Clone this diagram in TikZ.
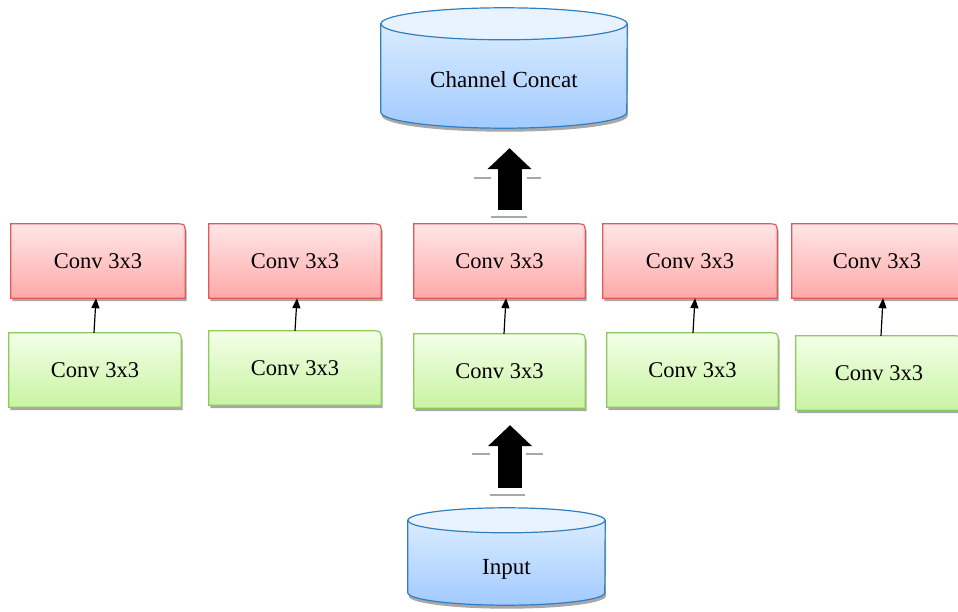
\documentclass[tikz,border=0pt]{standalone}
\usepackage{fontspec}
\setmainfont{Liberation Serif}
\usetikzlibrary{arrows.meta,backgrounds}

\definecolor{redtop}{HTML}{FFE6E6}
\definecolor{redbot}{HTML}{FFA9A9}
\definecolor{redline}{HTML}{E05A5A}
\definecolor{greentop}{HTML}{F3FFE8}
\definecolor{greenbot}{HTML}{C9F3A2}
\definecolor{greenline}{HTML}{8FC95C}
\definecolor{bluetop}{HTML}{D9ECFF}
\definecolor{bluebot}{HTML}{A2CAFF}
\definecolor{bluecap}{HTML}{E8F3FF}
\definecolor{blueline}{HTML}{2F7FC1}
\definecolor{shadowgray}{HTML}{A8A8A8}

\begin{document}
\begin{tikzpicture}[x=1pt,y=1pt,
	box/.style={minimum height=74pt, inner sep=0pt, font=\fontsize{22.5}{26}\selectfont},
	redbox/.style={top color=redtop, bottom color=redbot, draw=redline, line width=1.2pt},
	greenbox/.style={top color=greentop, bottom color=greenbot, draw=greenline, line width=1.2pt},
	cyltext/.style={inner sep=0pt, font=\fontsize{23}{27}\selectfont},
	arr/.style={line width=1.2pt, -{Triangle[width=8pt,length=10pt]}},
	bigarrow/.style={line width=24pt, -{Triangle[width=43pt,length=21pt]}},
	grayline/.style={shadowgray, line width=2pt}]
	\useasboundingbox (0,0) rectangle (958,611);
	
	% text of the two rows
	\foreach \n/\x/\w in {1/98/174, 2/295/172, 3/499.5/171, 4/690/174, 5/877/170}
		\node[box, minimum width=\w pt] (r\n) at (\x,350) {Conv 3x3};
	\foreach \n/\x/\y/\w in {1/95/241/172, 2/295/243/172, 3/499.5/240/171, 4/692.5/241/171, 5/879/238/166}
		\node[box, minimum width=\w pt] (g\n) at (\x,\y) {Conv 3x3};
	
	% the two stores
	\node[cyltext, text height=24pt, minimum width=246pt, minimum height=104pt] (cat) at (504,535) {Channel Concat};
	\node[cyltext, text height=29pt, minimum width=197pt, minimum height=84.5pt] (inp) at (506.5,48.25) {Input};
	
	\begin{scope}[on background layer]
		\foreach \b/\c in {r1/redbox, r2/redbox, r3/redbox, r4/redbox, r5/redbox,
			g1/greenbox, g2/greenbox, g3/greenbox, g4/greenbox, g5/greenbox} {
			\fill[shadowgray, transform canvas={shift={(1.5pt,-3pt)}}]
				(\b.south west) -- (\b.north west) -- ([xshift=-10pt]\b.north east)
				.. controls (\b.north east) .. ([yshift=-10pt]\b.north east) -- (\b.south east) -- cycle;
			\draw[\c]
				(\b.south west) -- (\b.north west) -- ([xshift=-10pt]\b.north east)
				.. controls (\b.north east) .. ([yshift=-10pt]\b.north east) -- (\b.south east) -- cycle;
		}
		
		\foreach \b/\rx/\ry in {cat/123/16, inp/98.5/12.5} {
			\fill[shadowgray, transform canvas={shift={(1pt,-3.5pt)}}]
				(\b.north west) -- ([yshift=\ry pt]\b.south west)
				arc[start angle=180, end angle=360, x radius=\rx pt, y radius=\ry pt] -- (\b.north east) -- cycle;
			\draw[top color=bluetop, bottom color=bluebot, draw=blueline, line width=1.2pt]
				(\b.north west) -- ([yshift=\ry pt]\b.south west)
				arc[start angle=180, end angle=360, x radius=\rx pt, y radius=\ry pt] -- (\b.north east) -- cycle;
			\draw[fill=bluecap, draw=blueline, line width=1.2pt]
				(\b.north) ellipse [x radius=\rx pt, y radius=\ry pt];
		}
	\end{scope}
	
	% small arrows inside each branch
	\foreach \n/\s in {1/-1, 2/0, 3/4.5, 4/0.5, 5/2}
		\draw[arr] ([xshift=\s pt]g\n.north) -- ([xshift=\s pt+2pt]g\n.north |- r\n.south);
	
	% big arrows
	\draw[grayline] (474,433) -- (491,433) (527,433) -- (541,433) (491,394) -- (527,394);
	\draw[grayline] (472,157) -- (490,157) (526,157) -- (543,157) (490,116) -- (525,116);
	\draw[bigarrow] ([xshift=10pt,yshift=14pt]r3.north) -- ([xshift=10pt,yshift=-20pt]r3.north |- cat.south);
	\draw[bigarrow] ([xshift=3.5pt,yshift=32.5pt]inp.north) -- ([xshift=3.5pt,yshift=-17pt]inp.north |- g3.south);
\end{tikzpicture}
\end{document}
